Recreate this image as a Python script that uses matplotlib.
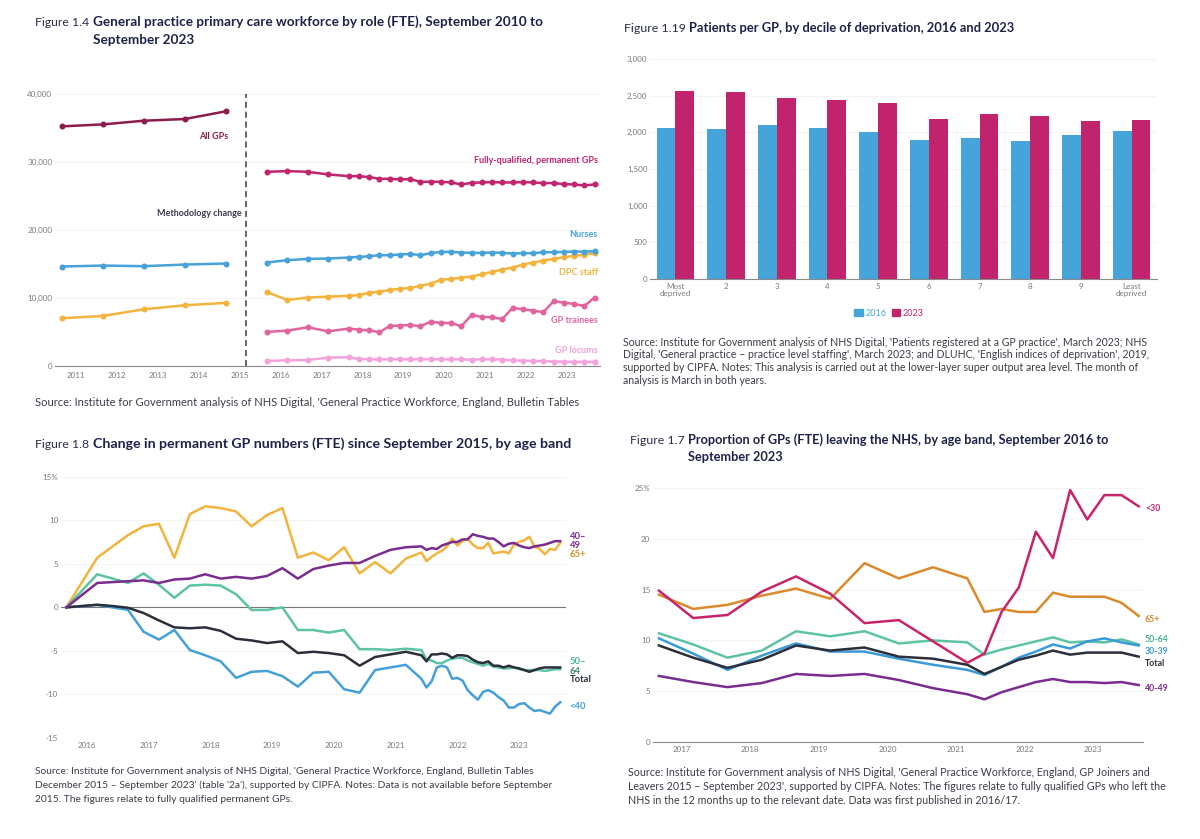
import matplotlib
matplotlib.use("Agg")
import matplotlib.pyplot as plt
from matplotlib.patches import Patch

plt.rcParams['font.family'] = ['Lato', 'DejaVu Sans']

W, H = 1200, 839

# ---------- Figure 1.4: workforce by role ----------
old_dates = ["2010-09", "2011-09", "2012-09", "2013-09", "2014-09"]
all_gps = [35240, 35530, 36070, 36320, 37450]
nurses_old = [14630, 14770, 14680, 14920, 15070]
dpc_old = [7020, 7360, 8340, 8930, 9280]

new_dates = ["2015-09", "2016-03", "2016-09", "2017-03", "2017-09", "2017-12",
             "2018-03", "2018-06", "2018-09", "2018-12", "2019-03", "2019-06",
             "2019-09", "2019-12", "2020-03", "2020-06", "2020-09", "2020-12",
             "2021-03", "2021-06", "2021-09", "2021-12", "2022-03", "2022-06",
             "2022-09", "2022-12", "2023-03", "2023-06", "2023-09"]
fq_gps = [28560, 28660, 28560, 28170, 27920, 27920, 27780, 27530, 27530, 27430,
          27480, 27090, 27090, 27090, 26990, 26700, 26940, 26990, 27040, 26990,
          26990, 27040, 26990, 26900, 26900, 26750, 26700, 26550, 26700]
nurses_new = [15210, 15560, 15750, 15800, 15950, 16050, 16140, 16290, 16290, 16390,
              16490, 16290, 16590, 16780, 16780, 16690, 16640, 16640, 16690, 16640,
              16540, 16590, 16590, 16730, 16730, 16780, 16830, 16830, 16880]
dpc_new = [10890, 9720, 10060, 10210, 10310, 10450, 10750, 10940, 11190, 11340,
           11480, 11780, 12120, 12660, 12810, 13000, 13150, 13500, 13840, 14180,
           14480, 14920, 15210, 15510, 15750, 16000, 16200, 16390, 16590]
trainees = [5010, 5200, 5690, 5100, 5500, 5350, 5250, 4960, 5890, 5940,
            6040, 5840, 6530, 6330, 6330, 5840, 7510, 7210, 7160, 6920,
            8540, 8340, 8150, 7900, 9520, 9320, 9130, 8830, 10060]
locums = [740, 830, 880, 1230, 1280, 1030, 980, 980, 980, 980,
          980, 1000, 1000, 980, 980, 980, 930, 980, 980, 930,
          830, 790, 740, 700, 660, 640, 620, 600, 600]
years_14 = list(range(2011, 2024))
y_ticks_14 = [0, 10000, 20000, 30000, 40000]

# ---------- Figure 1.19: patients per GP ----------
deciles = ["Most\ndeprived", "2", "3", "4", "5", "6", "7", "8", "9", "Least\ndeprived"]
ppg_2016 = [2065, 2047, 2106, 2061, 2011, 1901, 1929, 1878, 1965, 2015]
ppg_2023 = [2567, 2544, 2462, 2439, 2403, 2188, 2248, 2220, 2152, 2175]
y_ticks_119 = [0, 500, 1000, 1500, 2000, 2500, 3000]

# ---------- Figure 1.8: change since Sept 2015 ----------
chg_dates = ["2015-09", "2016-03", "2016-06", "2016-09", "2016-12", "2017-03",
             "2017-06", "2017-09", "2017-12", "2018-03", "2018-06", "2018-09",
             "2018-12", "2019-03", "2019-06", "2019-09", "2019-12", "2020-03",
             "2020-06", "2020-09", "2020-12", "2021-03", "2021-06", "2021-07",
             "2021-08", "2021-09", "2021-10", "2021-11", "2021-12", "2022-01",
             "2022-02", "2022-03", "2022-04", "2022-05", "2022-06", "2022-07",
             "2022-08", "2022-09", "2022-10", "2022-11", "2022-12", "2023-01",
             "2023-02", "2023-03", "2023-04", "2023-05", "2023-06", "2023-07",
             "2023-08", "2023-09"]
chg_65 = [0, 5.7, 7.0, 8.3, 9.3, 9.6, 5.7, 10.7, 11.6, 11.4, 11.0, 9.3, 10.6, 11.4,
          5.7, 6.3, 5.4, 6.9, 3.9, 5.2, 3.9, 5.6, 6.3, 5.3, 5.8, 6.2, 6.5, 7.0, 7.9,
          7.1, 7.6, 7.9, 7.2, 6.8, 6.8, 7.4, 6.2, 6.3, 6.4, 6.2, 7.2, 7.5, 7.7, 8.1,
          7.0, 6.7, 6.1, 6.7, 6.6, 7.4]
chg_4049 = [0, 2.8, 2.9, 3.0, 3.1, 2.8, 3.2, 3.3, 3.8, 3.3, 3.5, 3.3, 3.6, 4.5,
            3.3, 4.4, 4.8, 5.1, 5.1, 5.9, 6.6, 6.9, 7.0, 6.6, 6.8, 6.7, 7.1, 7.3,
            7.5, 7.5, 7.8, 7.8, 8.4, 8.2, 8.1, 7.9, 7.9, 7.5, 7.0, 7.3, 7.4, 7.1,
            6.9, 6.8, 7.0, 7.1, 7.2, 7.4, 7.6, 7.6]
chg_5064 = [0, 3.8, 3.3, 2.8, 3.9, 2.6, 1.1, 2.5, 2.6, 2.5, 1.5, -0.3, -0.3, 0.0,
            -2.6, -2.6, -2.9, -2.6, -4.8, -4.8, -4.9, -4.75, -4.9, -6.0, -6.1,
            -6.4, -6.4, -6.1, -5.9, -5.8, -5.8, -6.1, -6.3, -6.5, -6.7, -6.5,
            -6.8, -6.9, -7.0, -7.0, -6.9, -7.1, -7.2, -7.2, -7.2, -7.2, -7.3,
            -7.2, -7.1, -7.1]
chg_total = [0, 0.3, 0.15, -0.05, -0.65, -1.5, -2.3, -2.4, -2.3, -2.7, -3.6, -3.8,
             -4.1, -3.9, -5.25, -5.1, -5.25, -5.5, -6.7, -5.7, -5.4, -5.1, -5.5,
             -6.2, -5.4, -5.4, -5.3, -5.4, -5.8, -5.5, -5.5, -5.6, -6.0, -6.3,
             -6.4, -6.2, -6.7, -6.7, -6.9, -6.7, -6.9, -7.0, -7.2, -7.4, -7.2,
             -7.0, -6.9, -6.9, -6.9, -6.9]
chg_u40 = [0, 0.27, 0, -0.3, -2.8, -3.7, -2.6, -4.9, -5.5, -6.2, -8.1, -7.4, -7.3,
           -7.9, -9.1, -7.5, -7.4, -9.4, -9.8, -7.2, -6.9, -6.6, -8.2, -9.2, -8.5,
           -6.9, -6.7, -6.9, -8.2, -8.1, -8.4, -9.5, -10.1, -10.6, -9.7, -9.5,
           -9.8, -10.3, -10.7, -11.5, -11.5, -11.1, -11.0, -11.5, -11.9, -11.8,
           -12.0, -12.2, -11.4, -10.9]
years_18 = list(range(2016, 2024))
y_ticks_18 = [-15, -10, -5, 0, 5, 10, 15]
y_labels_18 = ["-15", "-10", "-5", "0", "5", "10", "15%"]

# ---------- Figure 1.7: proportion leaving ----------
leave_dates = ["2016-09", "2017-03", "2017-09", "2018-03", "2018-09", "2019-03",
               "2019-09", "2020-03", "2020-09", "2021-03", "2021-06", "2021-09",
               "2021-12", "2022-03", "2022-06", "2022-09", "2022-12", "2023-03",
               "2023-06", "2023-09"]
lv_u30 = [14.9, 12.2, 12.5, 14.8, 16.3, 14.6, 11.7, 12.0, 9.9, 7.8,
          8.7, 12.8, 15.2, 20.7, 18.1, 24.8, 21.9, 24.3, 24.3, 23.2]
lv_65 = [14.5, 13.1, 13.5, 14.4, 15.1, 14.1, 17.6, 16.1, 17.2, 16.1,
         12.8, 13.1, 12.8, 12.8, 14.7, 14.3, 14.3, 14.3, 13.7, 12.4]
lv_5064 = [10.7, 9.6, 8.3, 9.0, 10.9, 10.4, 10.9, 9.7, 10.0, 9.8,
           8.6, 9.1, 9.5, 9.9, 10.3, 9.8, 9.9, 9.8, 10.1, 9.6]
lv_3039 = [10.2, 8.7, 7.1, 8.5, 9.7, 8.9, 8.9, 8.2, 7.6, 7.1,
           6.6, 7.4, 8.3, 8.9, 9.6, 9.2, 9.9, 10.2, 9.8, 9.5]
lv_total = [9.5, 8.3, 7.3, 8.1, 9.5, 9.0, 9.3, 8.4, 8.2, 7.6,
            6.7, 7.4, 8.1, 8.5, 9.0, 8.6, 8.8, 8.8, 8.8, 8.4]
lv_4049 = [6.5, 5.9, 5.4, 5.8, 6.7, 6.5, 6.7, 6.1, 5.3, 4.7,
           4.2, 4.9, 5.4, 5.9, 6.2, 5.9, 5.9, 5.8, 5.9, 5.6]
years_17 = list(range(2017, 2024))
y_ticks_17 = [0, 5, 10, 15, 20, 25]
y_labels_17 = ["0", "5", "10", "15", "20", "25%"]

NAVY = "#1e2248"
TICK = "#7a7a7a"
SRC = "#3c3c48"


def dec(d):
    y, m = d.split("-")
    return int(y) + (int(m) - 1) / 12


def px_axes(fig, left, top, right, bottom):
    return fig.add_axes([left / W, 1 - bottom / H, (right - left) / W, (bottom - top) / H])


def base_style(ax, spine=True):
    for s in ["top", "right", "left"]:
        ax.spines[s].set_visible(False)
    ax.spines["bottom"].set_visible(spine)
    ax.spines["bottom"].set_color("#8a8a8a")
    ax.spines["bottom"].set_linewidth(0.8)
    ax.tick_params(length=0, labelsize=5.8, labelcolor=TICK)
    ax.tick_params(axis="y", pad=2)
    ax.tick_params(axis="x", pad=4)
    ax.grid(axis="y", color="#f1f1f1", lw=0.6)
    ax.set_axisbelow(True)


def title(fig, xn, y, num, lines, size, num_size):
    # figure number in regular weight, bold title placed right after it
    t = fig.text(xn / W, 1 - y / H, num, fontsize=num_size, color="#2a2d4a", va="center")
    bb = t.get_window_extent(fig.canvas.get_renderer())
    xb = bb.x1 + 3.5
    for i, s in enumerate(lines):
        fig.text(xb / W, 1 - (y + i * 17.5) / H, s, fontsize=size, color=NAVY,
                 weight="bold", va="center")


def source(fig, x, y, lines, size, step):
    for i, s in enumerate(lines):
        fig.text(x / W, 1 - (y + i * step) / H, s, fontsize=size, color=SRC, va="center")


fig = plt.figure(figsize=(12, 8.39), dpi=100)
fig.patch.set_facecolor("white")

# ===== Panel 1 =====
title(fig, 35, 22, "Figure 1.4",
      ["General practice primary care workforce by role (FTE), September 2010 to",
       "September 2023"], 9.8, 8.8)
ax1 = px_axes(fig, 55, 94, 600, 366)
base_style(ax1)
ox = [dec(d) for d in old_dates]
nx = [dec(d) for d in new_dates]
mk = dict(marker="o", ms=3.3, lw=1.8)
ax1.plot(ox, all_gps, color="#8e1c4b", **mk)
ax1.plot(ox, nurses_old, color="#46a2d8", **mk)
ax1.plot(ox, dpc_old, color="#f2b43c", **mk)
ax1.plot(nx, locums, color="#f3a3dc", **mk)
ax1.plot(nx, trainees, color="#e2649f", **mk)
ax1.plot(nx, dpc_new, color="#f2b43c", **mk)
ax1.plot(nx, nurses_new, color="#46a2d8", **mk)
ax1.plot(nx, fq_gps, color="#c1256d", **mk)
ax1.axvline(2015.15, color="#3a3a44", lw=1.1, ls=(0, (4, 2.5)))
ax1.set_xlim(2010.5, 2023.8)
ax1.set_ylim(0, 40000)
ax1.set_xticks(years_14)
ax1.set_yticks(y_ticks_14)
ax1.set_yticklabels([f"{v:,}" for v in y_ticks_14])
lab = dict(ha="right", va="center", fontsize=6.5, weight="bold")
ax1.text(2014.72, 33820, "All GPs", color="#8e1c4b", **lab)
ax1.text(2023.75, 30150, "Fully-qualified, permanent GPs", color="#c1256d", **lab)
ax1.text(2015.06, 22500, "Methodology change", color="#3a3a50", **lab)
ax1.text(2023.75, 19400, "Nurses", color="#46a2d8", **lab)
ax1.text(2023.75, 13820, "DPC staff", color="#f2b43c", **lab)
ax1.text(2023.75, 6760, "GP trainees", color="#e2649f", **lab)
ax1.text(2023.75, 2350, "GP locums", color="#f3a3dc", **lab)
source(fig, 35, 403,
       ["Source: Institute for Government analysis of NHS Digital, 'General Practice Workforce, England, Bulletin Tables"],
       8.0, 14)

# ===== Panel 2 =====
title(fig, 624, 28, "Figure 1.19",
      ["Patients per GP, by decile of deprivation, 2016 and 2023"], 9.3, 8.9)
ax2 = px_axes(fig, 650, 59, 1157, 279)
base_style(ax2)
xs = list(range(len(deciles)))
bw = 0.37
ax2.bar([x - bw / 2 for x in xs], ppg_2016, width=bw, color="#45a5db", label="2016")
ax2.bar([x + bw / 2 for x in xs], ppg_2023, width=bw, color="#c1246d", label="2023")
ax2.set_xlim(-0.5, 9.5)
ax2.set_ylim(0, 3000)
ax2.set_xticks(xs)
ax2.set_xticklabels(deciles, linespacing=1.0)
ax2.tick_params(axis="x", pad=3)
ax2.set_yticks(y_ticks_119)
ax2.set_yticklabels([f"{v:,}" for v in y_ticks_119])
ax2.legend(handles=[Patch(color="#45a5db", label="2016"), Patch(color="#c1246d", label="2023")],
           labelcolor=["#45a5db", "#c1246d"], ncol=2, frameon=False, fontsize=6.5,
           handlelength=0.9, handleheight=0.9, handletextpad=0.3, columnspacing=0.6,
           loc="center", bbox_to_anchor=((889 - 650) / 507, -(313 - 279) / 220))
source(fig, 623, 342,
       ["Source: Institute for Government analysis of NHS Digital, 'Patients registered at a GP practice', March 2023; NHS",
        "Digital, 'General practice – practice level staffing', March 2023; and DLUHC, 'English indices of deprivation', 2019,",
        "supported by CIPFA. Notes: This analysis is carried out at the lower-layer super output area level. The month of",
        "analysis is March in both years."],
       7.6, 12.8)

# ===== Panel 3 =====
title(fig, 35, 444, "Figure 1.8",
      ["Change in permanent GP numbers (FTE) since September 2015, by age band"], 10.2, 8.8)
ax3 = px_axes(fig, 61, 476.7, 566, 738)
base_style(ax3, spine=False)
cx = [dec(d) for d in chg_dates]
lw3 = 1.8
ax3.axhline(0, color="#777777", lw=0.8)
ax3.plot(cx, chg_65, color="#f2b43c", lw=lw3)
ax3.plot(cx, chg_5064, color="#5dc3a7", lw=lw3)
ax3.plot(cx, chg_u40, color="#45a0d6", lw=lw3)
ax3.plot(cx, chg_total, color="#2c2e3a", lw=lw3)
ax3.plot(cx, chg_4049, color="#7a2d8f", lw=lw3)
ax3.set_xlim(2015.58, 2023.76)
ax3.set_ylim(-15, 15)
ax3.set_xticks(years_18)
ax3.set_yticks(y_ticks_18)
ax3.set_yticklabels(y_labels_18)
ax3.tick_params(axis="x", pad=3)
lab3 = dict(ha="left", va="center", fontsize=6.8, weight="bold", clip_on=False)
ax3.text(2023.82, 8.15, "40–", color="#7a2d8f", **lab3)
ax3.text(2023.82, 7.1, "49", color="#7a2d8f", **lab3)
ax3.text(2023.82, 6.1, "65+", color="#c8961e", **lab3)
ax3.text(2023.82, -6.2, "50–", color="#4bb395", **lab3)
ax3.text(2023.82, -7.35, "64", color="#3c8a75", **lab3)
ax3.text(2023.82, -8.27, "Total", color="#2c2e3a", **lab3)
ax3.text(2023.82, -11.37, "<40", color="#45a0d6", **lab3)
source(fig, 35, 771,
       ["Source: Institute for Government analysis of NHS Digital, 'General Practice Workforce, England, Bulletin Tables",
        "December 2015 – September 2023' (table '2a'), supported by CIPFA. Notes: Data is not available before September",
        "2015. The figures relate to fully qualified permanent GPs."],
       7.4, 14)

# ===== Panel 4 =====
title(fig, 630, 440, "Figure 1.7",
      ["Proportion of GPs (FTE) leaving the NHS, by age band, September 2016 to",
       "September 2023"], 9.2, 8.9)
ax4 = px_axes(fig, 653, 488, 1143, 742)
base_style(ax4)
lx = [dec(d) for d in leave_dates]
ax4.plot(lx, lv_65, color="#da8a2c", lw=lw3)
ax4.plot(lx, lv_5064, color="#5dc3a7", lw=lw3)
ax4.plot(lx, lv_3039, color="#3a9ad9", lw=lw3)
ax4.plot(lx, lv_total, color="#2c2e3a", lw=lw3)
ax4.plot(lx, lv_4049, color="#7a2d8f", lw=lw3)
ax4.plot(lx, lv_u30, color="#c8246a", lw=lw3)
ax4.set_xlim(2016.58, 2023.73)
ax4.set_ylim(0, 25)
ax4.set_xticks(years_17)
ax4.set_yticks(y_ticks_17)
ax4.set_yticklabels(y_labels_17)
ax4.tick_params(axis="x", pad=3)
lab4 = dict(ha="left", va="center", fontsize=6.3, weight="bold", clip_on=False)
ax4.text(2023.76, 23.0, "<30", color="#c8246a", **lab4)
ax4.text(2023.76, 12.1, "65+", color="#da8a2c", **lab4)
ax4.text(2023.76, 10.1, "50-64", color="#4bb395", **lab4)
ax4.text(2023.76, 8.86, "30-39", color="#3a9ad9", **lab4)
ax4.text(2023.76, 7.68, "Total", color="#2c2e3a", **lab4)
ax4.text(2023.76, 5.3, "40-49", color="#7a2d8f", **lab4)
source(fig, 628, 772,
       ["Source: Institute for Government analysis of NHS Digital, 'General Practice Workforce, England, GP Joiners and",
        "Leavers 2015 – September 2023', supported by CIPFA. Notes: The figures relate to fully qualified GPs who left the",
        "NHS in the 12 months up to the relevant date. Data was first published in 2016/17."],
       7.7, 14)

fig.savefig("out.png", dpi=100)
